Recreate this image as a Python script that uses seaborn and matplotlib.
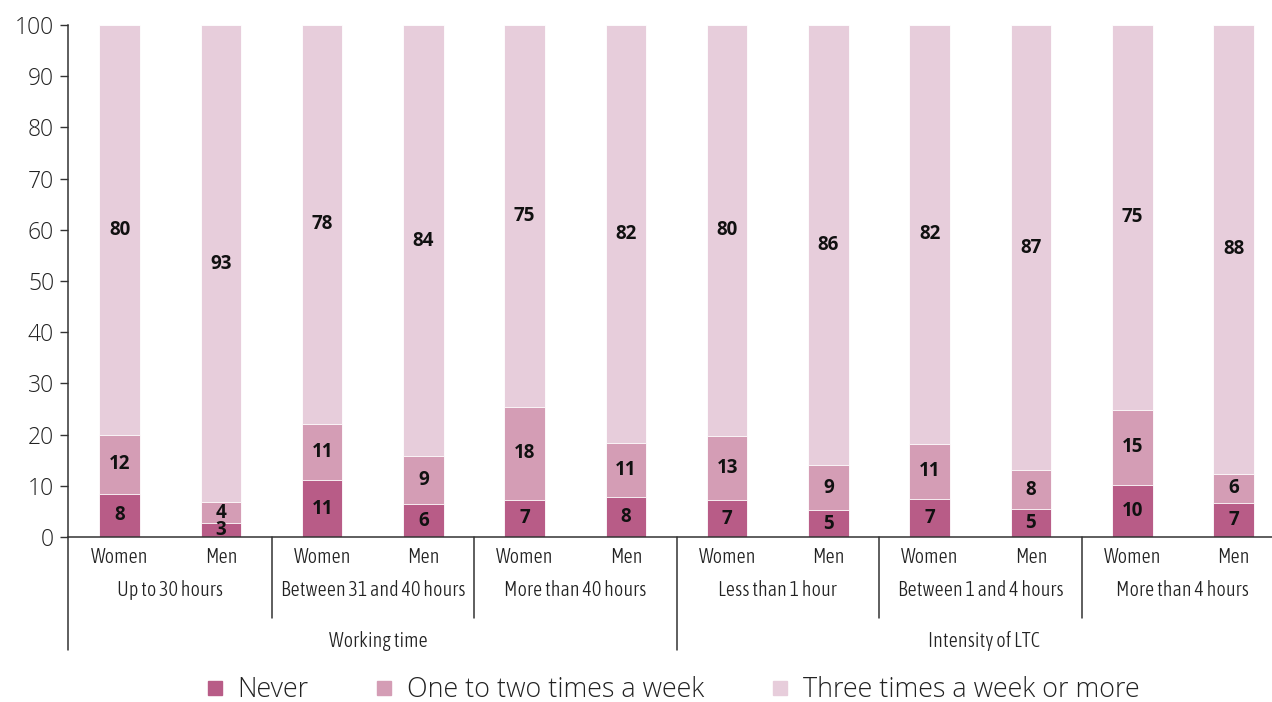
import pandas as pd
import matplotlib.pyplot as plt
from matplotlib.lines import Line2D
from matplotlib import font_manager
import seaborn as sns

# --- Data (percent shares) ---
groups = ['Up to 30 hours', 'Up to 30 hours',
          'Between 31 and 40 hours', 'Between 31 and 40 hours',
          'More than 40 hours', 'More than 40 hours',
          'Less than 1 hour', 'Less than 1 hour',
          'Between 1 and 4 hours', 'Between 1 and 4 hours',
          'More than 4 hours', 'More than 4 hours']
sexes = ['Women', 'Men'] * 6
never = [8.4, 2.7, 11.1, 6.4, 7.3, 7.8, 7.2, 5.2, 7.4, 5.4, 10.1, 6.7]
one_two = [11.6, 4.1, 11.0, 9.4, 18.1, 10.6, 12.6, 8.8, 10.8, 7.6, 14.8, 5.7]
three_plus = [80.0, 93.2, 77.9, 84.2, 74.6, 81.6, 80.2, 86.0, 81.8, 87.0, 75.1, 87.6]
sections = ['Working time', 'Intensity of LTC']
series_names = ['Never', 'One to two times a week', 'Three times a week or more']
colors = ['#B85C87', '#D49DB5', '#E7CDDB']

df = pd.DataFrame({'group': groups, 'sex': sexes, 'never': never,
                   'one_two': one_two, 'three': three_plus})
df['key'] = df['group'] + '|' + df['sex']
df['cum1'] = df['never']
df['cum2'] = df['never'] + df['one_two']
df['cum3'] = df['cum2'] + df['three']

sns.set_theme(style='white')
plt.rcParams['font.family'] = ['Open Sans', 'DejaVu Sans']


# pick a condensed face for the category labels, if one is installed
def score(path):
    p = path.lower()
    if not ('condensed' in p or 'narrow' in p):
        return -1
    if any(k in p for k in ['bold', 'oblique', 'italic', 'black', 'medium']):
        return -1
    s = 1
    if 'semicondensed' in p or 'semi' in p:
        s -= 0.5
    if 'light' in p and 'extralight' not in p:
        s += 1
    return s


files = sorted(font_manager.fontManager.ttflist, key=lambda f: -score(f.fname))
if files and score(files[0].fname) >= 0:
    lab_font = dict(fontproperties=font_manager.FontProperties(fname=files[0].fname, size=14.5))
else:
    lab_font = dict(fontsize=11.5)

fig = plt.figure(figsize=(12.72, 7.02), dpi=100)
ax = fig.add_axes([68 / 1272, 165 / 702, 1 - 68 / 1272, 512 / 702])

# stacked bars drawn as overlapping cumulative totals
for col, c in zip(['cum3', 'cum2', 'cum1'], colors[::-1]):
    sns.barplot(data=df, x='key', y=col, order=list(df['key']), color=c,
                width=0.4, edgecolor='white', linewidth=0.6, saturation=1,
                errorbar=None, ax=ax)

# value labels centred in each segment
for i, row in df.iterrows():
    for lo, val in [(0, row['never']), (row['cum1'], row['one_two']), (row['cum2'], row['three'])]:
        ax.text(i, lo + val / 2, f'{val:.0f}', ha='center', va='center',
                fontsize=13.5, fontweight='bold', color='#111111')

ax.set_xlim(-0.51, 11.38)
ax.set_ylim(0, 100)
ax.set_yticks(range(0, 101, 10))
ax.tick_params(axis='y', labelsize=16.5, length=6, width=1, color='#333333',
               labelcolor='#222222', pad=4, left=True)
for t in ax.get_yticklabels():
    t.set_fontweight('light')
ax.set_xticks([])
ax.set_xlabel('')
ax.set_ylabel('')
for s in ['top', 'right']:
    ax.spines[s].set_visible(False)
for s in ['left', 'bottom']:
    ax.spines[s].set_color('#333333')
    ax.spines[s].set_linewidth(1.1)

trans = ax.get_xaxis_transform()
# category labels
for i, row in df.iterrows():
    ax.text(i, -0.039, row['sex'], transform=trans, ha='center', va='center',
            color='#222222', **lab_font)
for j in range(6):
    ax.text(2 * j + 0.5, -0.1035, groups[2 * j], transform=trans, ha='center',
            va='center', color='#222222', **lab_font)
for xpos, name in zip([2.56, 8.53], sections):
    ax.text(xpos, -0.203, name, transform=trans, ha='center', va='center',
            color='#222222', **lab_font)

# separators below the axis
for xpos, depth in [(-0.51, -0.2207), (1.5, -0.158), (3.5, -0.158),
                    (5.5, -0.2207), (7.5, -0.158), (9.5, -0.158)]:
    ax.add_line(Line2D([xpos, xpos], [0, depth], transform=trans, color='#333333',
                       linewidth=1.1, clip_on=False))

handles = [Line2D([], [], marker='s', linestyle='none', markersize=10.5,
                  markerfacecolor=c, markeredgecolor=c) for c in colors]
leg = fig.legend(handles, series_names, loc='center', bbox_to_anchor=(0.529, 0.017),
                 ncol=3, frameon=False, fontsize=19.4, handlelength=0.6,
                 handletextpad=0.55, columnspacing=2.5, labelcolor='#222222')
for t in leg.get_texts():
    t.set_fontweight('light')

fig.savefig('out.png', dpi=100)
